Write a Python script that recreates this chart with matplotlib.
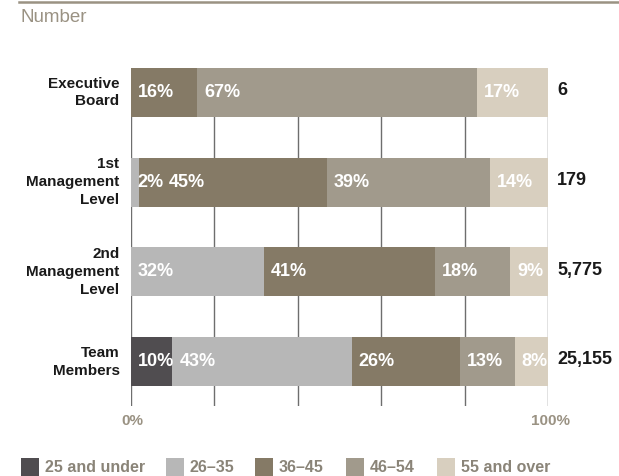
import matplotlib
matplotlib.use('Agg')
import matplotlib.pyplot as plt
from matplotlib.lines import Line2D
from matplotlib.patches import Rectangle
import numpy as np

plt.rcParams['font.family'] = ['Liberation Sans', 'DejaVu Sans']

# データ
categories = ['Executive\nBoard', '1st\nManagement\nLevel', '2nd\nManagement\nLevel', 'Team\nMembers']
age_groups = ['25 and under', '26\u201335', '36\u201345', '46\u201354', '55 and over']
share_25_under = [0, 0, 0, 10]
share_26_35 = [0, 2, 32, 43]
share_36_45 = [16, 45, 41, 26]
share_46_54 = [67, 39, 18, 13]
share_55_over = [17, 14, 9, 8]
totals = ['6', '179', '5,775', '25,155']

colors = ['#504d50', '#b7b7b7', '#857a66', '#a19a8c', '#d8cfbf']
accent = '#9a9283'

W, H = 619, 476
fig = plt.figure(figsize=(W / 100, H / 100), dpi=100)
renderer = fig.canvas.get_renderer()

# 軸の位置（ピクセルから換算）
left, right, top, bottom = 130.5, 548, 68, 406
ax = fig.add_axes([left / W, (H - bottom) / H, (right - left) / W, (bottom - top) / H])
ax.set_xlim(0, 100)
ax.set_ylim(3.495, -0.273)
ax.axis('off')

# グリッド線
for gx in range(0, 101, 20):
    ax.axvline(gx, color='#6e6e6e', linewidth=1.0, zorder=0)

series = [share_25_under, share_26_35, share_36_45, share_46_54, share_55_over]
y = np.arange(len(categories))
px = (right - left) / 100.0
starts = np.zeros(len(categories))
label_end = [-100.0] * len(categories)   # 直前のラベルの右端（データ座標）
for vals, col in zip(series, colors):
    vals = np.array(vals, dtype=float)
    ax.barh(y, vals, left=starts, height=0.546, color=col, edgecolor='none', zorder=2)
    for yi, (s, v) in enumerate(zip(starts, vals)):
        if v > 0:
            xpos = max(s + 7 / px, label_end[yi] + 5 / px)
            t = ax.text(xpos, yi, f'{int(v)}%', ha='left', va='center',
                        color='white', fontsize=13, fontweight='bold', zorder=3)
            bb = t.get_window_extent(renderer=renderer)
            label_end[yi] = xpos + bb.width / px
    starts += vals

# カテゴリ名と合計
for yi, (cat, tot) in enumerate(zip(categories, totals)):
    ax.text(-11 / px, yi, cat, ha='right', va='center', fontsize=11,
            fontweight='bold', color='#1a1a1a', linespacing=1.35)
    ax.text(100 + 9 / px, yi - 0.02, tot, ha='left', va='center', fontsize=13,
            fontweight='bold', color='#1a1a1a')

# 0% / 100%
fig.text((left + 2) / W, 1 - 421 / H, '0%', ha='center', va='center',
         fontsize=11, fontweight='bold', color=accent)
fig.text(550 / W, 1 - 421 / H, '100%', ha='center', va='center',
         fontsize=11, fontweight='bold', color=accent)

# 上部の線と見出し
fig.add_artist(Line2D([19 / W, 1], [1 - 2 / H, 1 - 2 / H], color=accent, linewidth=1.8))
fig.text(21 / W, 1 - 17 / H, 'Number', ha='left', va='center', fontsize=13.5,
         color=accent)

# 凡例
sq_x = [21, 166, 255, 346, 437]
for sx, lab, col in zip(sq_x, age_groups, colors):
    fig.add_artist(Rectangle((sx / W, 1 - 476 / H), 18 / W, 18 / H,
                             facecolor=col, edgecolor='none', transform=fig.transFigure))
    fig.text((sx + 24) / W, 1 - 468 / H, lab, ha='left', va='center',
             fontsize=11.5, fontweight='bold', color='#8a8478')

plt.savefig('out.png', dpi=100, facecolor='white')
plt.close()
